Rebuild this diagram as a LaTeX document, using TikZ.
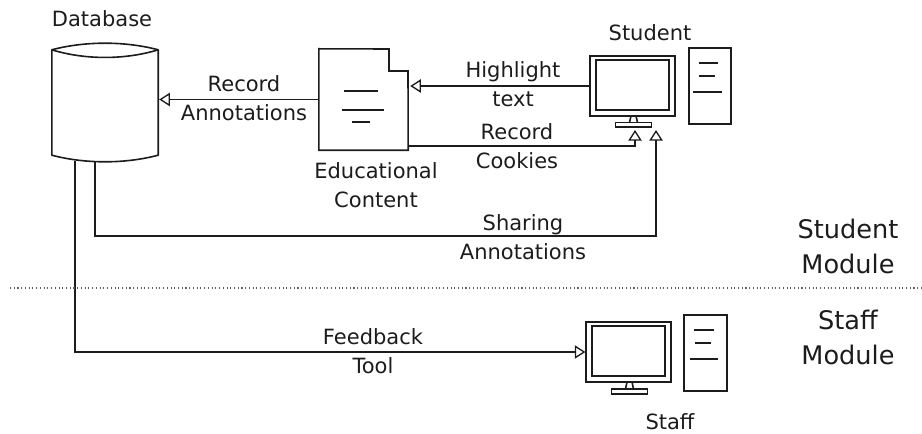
\documentclass[tikz,border=0pt]{standalone}
\usepackage{fontspec}
\setmainfont{DejaVu Sans}
\usetikzlibrary{positioning,calc,arrows.meta}

\definecolor{inkline}{HTML}{1C1C1C}

\tikzset{
    line/.style={draw=inkline, line width=1.2pt},
    thin box/.style={line, rectangle, inner sep=0pt},
    flow/.style={line, -{Triangle[open, length=8pt, width=10pt, line width=1pt]}},
    caption/.style={inner sep=0pt, text=inkline, font=\fontsize{21}{29}\selectfont},
    label/.style={caption, align=center},
    module/.style={align=center, inner sep=0pt, text=inkline, font=\fontsize{25.6}{35}\selectfont},
}

\begin{document}
\begin{tikzpicture}[x=1pt, y=-1pt, scale=0.75, transform shape]
    \useasboundingbox (0,0) rectangle (922,434);

    % database
    \node (db) [inner sep=0pt, minimum width=106pt, minimum height=105pt] at (105,102.5) {};
    \draw[line, line join=round] (db.north west) .. controls (85,41) and (125,41) .. (db.north east)
        .. controls (125,60) and (85,60) .. (db.north west) -- (db.south west)
        .. controls (85,164) and (125,164) .. (db.south east) -- (db.north east);
    \node (dbname) [caption] at (102,19) {Database};
    \coordinate (dbfeedback) at (75,161);
    \coordinate (dbsharing) at (95,161.5);

    % educational content
    \node (doc) [inner sep=0pt, minimum width=89pt, minimum height=101pt] at (363.5,99.5) {};
    \draw[line] (doc.north west) -- (389,49) -- (389,71) -- (408,71) -- (doc.south east) -- (doc.south west) -- cycle;
    \draw[line] (344,91) -- (378,91);
    \draw[line] (342,110) -- (384,110);
    \draw[line] (352,122) -- (370,122);
    \node (docname) [label] at (376,185.5) {Educational\\Content};
    \coordinate (doccookies) at (408,146);

    % student computer
    \node (stuscreen) [thin box, minimum width=85pt, minimum height=60pt] at (632.5,86) {};
    \node (stuinner) [thin box, minimum width=73pt, minimum height=50pt] at (632.5,85) {};
    \node (stubase) [thin box, minimum width=36pt, minimum height=4.5pt] at (633.5,124.7) {};
    \draw[line] (631,116) -- (629.5,122.5) (636,116) -- (637.5,122.5);
    \node (stutower) [thin box, minimum width=42.5pt, minimum height=76pt] at (710,86) {};
    \draw[line] (699,63) -- (718,63);
    \draw[line] (699,76) -- (715,76);
    \draw[line] (693,92) -- (722,92);
    \node (stuname) [caption] at (650,33) {Student};
    \coordinate (stucookies) at (635,130);
    \coordinate (stusharing) at (656,130);

    % staff computer
    \node (staffscreen) [thin box, minimum width=85pt, minimum height=60pt] at (628.5,352) {};
    \node (staffinner) [thin box, minimum width=73pt, minimum height=50pt] at (628.5,351) {};
    \node (staffbase) [thin box, minimum width=36pt, minimum height=4.5pt] at (629.5,391.5) {};
    \draw[line] (627,382) -- (625.5,389) (632,382) -- (633.5,389);
    \node (stafftower) [thin box, minimum width=42.5pt, minimum height=76pt] at (705.5,353) {};
    \draw[line] (694,330) -- (713.5,330);
    \draw[line] (695,343) -- (711,343);
    \draw[line] (690,359) -- (718,359);
    \node (staffname) [caption] at (670,422) {Staff};

    % connectors
    \draw[flow] (doc.west) -- ($(doc.west -| db.east)+(1,0)$);
    \draw[flow] (stuscreen.west) -- ($(stuscreen.west -| doc.east)+(2,0)$);
    \draw[flow] (doccookies) -| (stucookies);
    \draw[flow] (dbsharing) |- (236,236) -| (stusharing);
    \draw[flow] (dbfeedback) |- (staffscreen.west);

    \node (recordann) [label] at (244,98.5) {Record\\Annotations};
    \node (highlight) [label] at (513,84.5) {Highlight\\text};
    \node (cookies) [label] at (517,146.5) {Record\\Cookies};
    \node (sharing) [label] at (523,237) {Sharing\\Annotations};
    \node (feedback) [label] at (373,351.5) {Feedback\\Tool};

    % modules
    \coordinate (divleft) at (10,288);
    \coordinate (divright) at (922,288);
    \draw[draw=inkline!70, line width=0.8pt, dotted] (divleft) -- (divright);
    \node (stumodule) [module] at (848,246.5) {Student\\Module};
    \node (staffmodule) [module] at (848,337) {Staff\\Module};
\end{tikzpicture}
\end{document}
